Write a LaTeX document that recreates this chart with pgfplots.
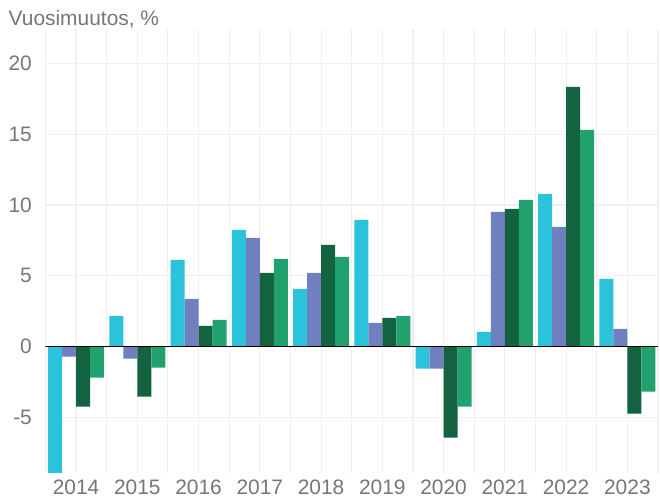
\documentclass[border=0pt]{standalone}
\usepackage{pgfplots}
\pgfplotsset{compat=1.18}
\usepackage{fontspec}
\setmainfont{Liberation Sans}
\definecolor{cA}{HTML}{2BC2DC}
\definecolor{cB}{HTML}{6F7FBF}
\definecolor{cC}{HTML}{136340}
\definecolor{cD}{HTML}{21A16E}
\definecolor{txt}{HTML}{767676}
\definecolor{gridc}{HTML}{F0F0F0}
\begin{document}
\begin{tikzpicture}
\begin{axis}[
  at={(45.4bp,25.3bp)}, anchor=south west,
  scale only axis, width=612.6bp, height=443.4bp,
  xmin=-0.5, xmax=9.5, ymin=-8.9, ymax=22.4,
  axis line style={draw=none},
  clip=true,
  ybar=0pt, bar width=0.2285,
  xtick={0,1,2,3,4,5,6,7,8,9},
  xticklabels={2014,2015,2016,2017,2018,2019,2020,2021,2022,2023},
  minor xtick={-0.5,0,0.5,1,1.5,2,2.5,3,3.5,4,4.5,5,5.5,6,6.5,7,7.5,8,8.5,9,9.5},
  ytick={-5,0,5,10,15,20},
  yticklabels={-5,0,5,10,15,20},
  xmajorgrids=false, xminorgrids, ymajorgrids,
  grid style={draw=gridc, line width=1.1bp},
  minor grid style={draw=gridc, line width=1.1bp},
  major tick length=0pt, minor tick length=0pt,
  tick style={draw=none},
  ticklabel style={font=\fontsize{21}{24}\selectfont, text=txt},
  xticklabel style={yshift=-4bp},
  yticklabel style={xshift=-10bp},
  every axis plot/.append style={draw=none},
]
\addplot[fill=cA, bar shift=-0.34275] coordinates {(0,-9.5) (1,2.17) (2,6.12) (3,8.24) (4,4.07) (5,8.95) (6,-1.55) (7,1.04) (8,10.78) (9,4.78)};
\addplot[fill=cB, bar shift=-0.11425] coordinates {(0,-0.7) (1,-0.85) (2,3.37) (3,7.68) (4,5.2) (5,1.67) (6,-1.55) (7,9.51) (8,8.45) (9,1.25)};
\addplot[fill=cC, bar shift=0.11425] coordinates {(0,-4.24) (1,-3.53) (2,1.46) (3,5.2) (4,7.18) (5,2.03) (6,-6.43) (7,9.73) (8,18.34) (9,-4.73)};
\addplot[fill=cD, bar shift=0.34275] coordinates {(0,-2.19) (1,-1.48) (2,1.89) (3,6.19) (4,6.33) (5,2.17) (6,-4.24) (7,10.36) (8,15.3) (9,-3.18)};
\draw[black, line width=1.4bp] (axis cs:-0.5,0) -- (axis cs:9.5,0);
\end{axis}
\pgfresetboundingbox
\path[use as bounding box] (0,0) rectangle (660bp,498bp);
\node[anchor=base west, inner sep=0pt, text=txt, font=\fontsize{21}{24}\selectfont] at (8.5bp,472bp) {Vuosimuutos, \%};
\end{tikzpicture}
\end{document}
